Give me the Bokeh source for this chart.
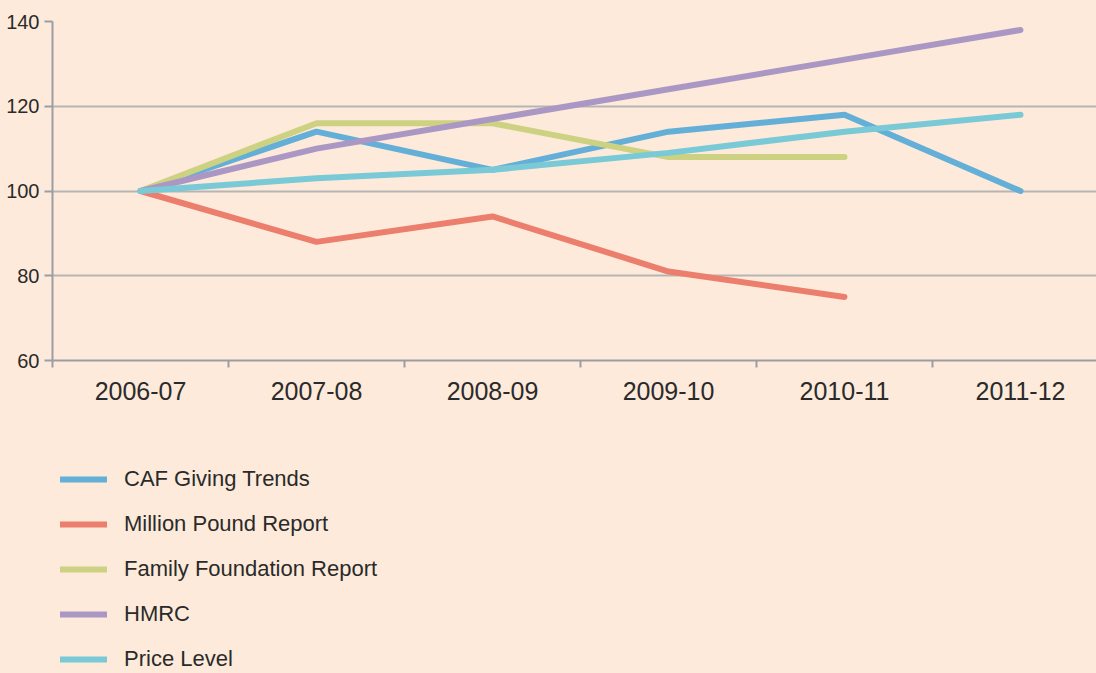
from bokeh.plotting import figure
from bokeh.layouts import column
from bokeh.models import Range1d, FixedTicker, Legend, LegendItem
from bokeh.embed import file_html
from bokeh.resources import INLINE

years = ["2006-07", "2007-08", "2008-09", "2009-10", "2010-11", "2011-12"]
caf = [100, 114, 105, 114, 118, 100]
million = [100, 88, 94, 81, 75, None]
family = [100, 116, 116, 108, 108, None]
hmrc = [100, 110, 117, 124, 131, 138]
price = [100, 103, 105, 109, 114, 118]
series_names = ["CAF Giving Trends", "Million Pound Report", "Family Foundation Report", "HMRC", "Price Level"]
series_values = [caf, million, family, hmrc, price]
colors = ["#63afd7", "#ec7e6d", "#cdd283", "#ab97c4", "#79c9d6"]
y_ticks = [60, 80, 100, 120, 140]

BG = "#fdeada"
FONT = "Liberation Sans"
TXT = "#2a2a2a"
AX = "#9a9ea3"
W = 1096
H_TOP, H_LEG = 420, 253
LEFT, TOP = 52, 21
FRAME_H = 339
BAND = 176
LW = 6
xs = list(range(len(years)))
x_end = -0.5 + (W - LEFT) / BAND

p = figure(width=W, height=H_TOP, output_backend="svg", toolbar_location=None,
           x_range=Range1d(-0.5, x_end), y_range=Range1d(60, 140),
           min_border_left=LEFT, min_border_top=TOP, min_border_right=0,
           min_border_bottom=H_TOP - TOP - FRAME_H,
           background_fill_color=BG, border_fill_color=BG, outline_line_color=None)

p.xgrid.visible = False
p.ygrid.ticker = FixedTicker(ticks=y_ticks)
p.ygrid.grid_line_color = "#b5b5b5"
p.ygrid.grid_line_width = 2

xa = p.xaxis[0]
xa.ticker = FixedTicker(ticks=xs, minor_ticks=[i - 0.5 for i in xs])
xa.major_label_overrides = {i: y for i, y in enumerate(years)}
xa.major_tick_line_color = None
xa.major_tick_out = 0
xa.major_tick_in = 0
xa.minor_tick_line_color = AX
xa.minor_tick_line_width = 2
xa.minor_tick_out = 7
xa.minor_tick_in = 0
xa.axis_line_color = AX
xa.axis_line_width = 2
xa.major_label_text_font = FONT
xa.major_label_text_font_size = "25px"
xa.major_label_text_color = TXT
xa.major_label_standoff = 14

ya = p.yaxis[0]
ya.ticker = FixedTicker(ticks=y_ticks)
ya.major_tick_line_color = AX
ya.major_tick_line_width = 2
ya.major_tick_out = 8
ya.major_tick_in = 0
ya.minor_tick_line_color = None
ya.axis_line_color = AX
ya.axis_line_width = 2
ya.major_label_text_font = FONT
ya.major_label_text_font_size = "20px"
ya.major_label_text_color = TXT
ya.major_label_standoff = 5

for vals, c in zip(series_values, colors):
    xx = [x for x, v in zip(xs, vals) if v is not None]
    yy = [v for v in vals if v is not None]
    p.line(xx, yy, line_color=c, line_width=LW, line_cap="round", line_join="round")

# legend panel below the chart (its renderers hold off-range points, so only the legend shows)
p2 = figure(width=W, height=H_LEG, output_backend="svg", toolbar_location=None,
            x_range=Range1d(0, 1), y_range=Range1d(0, 1),
            x_axis_location=None, y_axis_location=None,
            min_border=0, background_fill_color=BG, border_fill_color=BG,
            outline_line_color=None)
p2.xgrid.visible = False
p2.ygrid.visible = False
items = []
for name, c in zip(series_names, colors):
    r = p2.line(x=[5, 6], y=[5, 6], line_color=c, line_width=LW, line_cap="round")
    items.append(LegendItem(label=name, renderers=[r]))

legend = Legend(items=items, location=(8, 1), orientation="vertical",
                glyph_width=47, glyph_height=24, label_height=24, label_standoff=17,
                spacing=19, padding=0, margin=0, border_line_color=None,
                background_fill_alpha=0, label_text_font=FONT,
                label_text_font_size="22px", label_text_color=TXT)
p2.add_layout(legend, "center")

layout = column(p, p2, spacing=0)
html = file_html(layout, INLINE)
html = html.replace("<head>", "<head><style>body{background-color:#fdeada;}</style>", 1)
open("out.html", "w").write(html)
